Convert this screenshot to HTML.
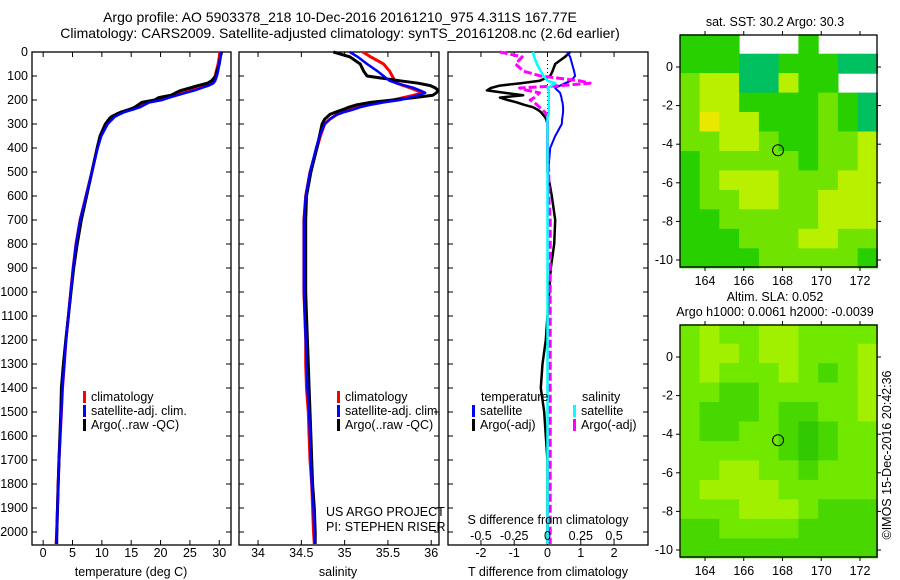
<!DOCTYPE html>
<html><head><meta charset="utf-8"><style>
body{margin:0;background:#fff;}
svg{display:block;font-family:"Liberation Sans",sans-serif;}
</style></head><body>
<svg id="c" width="900" height="580" viewBox="0 0 900 580" xmlns="http://www.w3.org/2000/svg">
<text x="340" y="22" font-size="14" text-anchor="middle">Argo profile: AO 5903378_218 10-Dec-2016 20161210_975 4.311S 167.77E</text>
<text x="340" y="38" font-size="14" text-anchor="middle">Climatology: CARS2009. Satellite-adjusted climatology: synTS_20161208.nc (2.6d earlier)</text>
<g id="g"></g>
</svg>
<script>
const depths=[0,20,50,80,100,120,130,140,150,160,170,180,190,200,210,220,230,240,250,260,270,280,300,350,400,500,600,700,800,900,1000,1100,1200,1300,1400,1500,1600,1700,1800,1900,2000,2050];
const tempClim=[30.1,30.0,29.8,29.5,29.3,28.9,28.5,27.8,26.7,25.3,23.9,22.5,21.1,19.9,17.7,16.8,16.0,14.8,13.4,12.5,11.7,11.4,10.6,9.7,9.2,8.3,7.3,6.3,5.6,5.1,4.7,4.3,3.9,3.6,3.3,3.1,2.9,2.7,2.56,2.45,2.33,2.2];
const tempSat=[30.3,30.2,30.0,29.8,29.6,29.3,29.0,28.2,27.0,25.8,24.3,22.9,21.5,20.3,18.1,17.3,16.5,15.3,13.9,13.0,12.2,11.8,11.0,9.9,9.3,8.3,7.3,6.3,5.6,5.1,4.7,4.3,3.9,3.6,3.3,3.1,2.9,2.7,2.56,2.45,2.33,2.2];
const tempArgo=[30.4,30.2,30.0,29.6,29.4,28.7,28.0,26.4,25.0,23.5,22.6,21.8,19.7,19.0,16.8,16.2,15.6,14.6,13.3,12.4,11.6,11.2,10.6,9.7,9.2,8.3,7.4,6.5,5.8,5.2,4.75,4.3,3.85,3.45,3.1,3.0,2.85,2.7,2.56,2.45,2.33,2.3];
const salClim=[35.21,35.3,35.45,35.52,35.55,35.58,35.6,35.68,35.76,35.83,35.9,35.8,35.68,35.56,35.4,35.26,35.15,35.06,34.98,34.91,34.87,34.83,34.77,34.72,34.68,34.6,34.55,34.53,34.53,34.53,34.53,34.54,34.55,34.55,34.56,34.58,34.59,34.6,34.62,34.63,34.64,34.65];
const salSat=[35.06,35.15,35.26,35.38,35.45,35.52,35.6,35.7,35.8,35.87,35.93,35.85,35.75,35.64,35.45,35.3,35.18,35.1,35.0,34.92,34.87,34.83,34.77,34.71,34.67,34.6,34.55,34.53,34.53,34.53,34.53,34.54,34.55,34.56,34.57,34.59,34.6,34.61,34.62,34.64,34.65,34.66];
const salArgo=[34.87,35.06,35.18,35.22,35.26,35.64,35.85,35.99,36.05,36.08,36.06,36.02,35.8,35.56,35.3,35.14,35.05,34.98,34.9,34.83,34.8,34.77,34.74,34.71,34.68,34.61,34.56,34.55,34.55,34.55,34.55,34.56,34.57,34.58,34.59,34.6,34.61,34.62,34.63,34.65,34.66,34.66];
const dTsat=[0.59,0.68,0.74,0.8,0.83,0.7,0.53,0.38,0.23,0.3,0.38,0.4,0.42,0.43,0.45,0.46,0.47,0.47,0.47,0.46,0.45,0.44,0.43,0.23,0.08,0.02,0.01,0,0,0,0,0,0,0,0,0,0,0,0,0,0,0];
const dTargo=[0.68,0.53,0.23,0.15,0.08,-0.23,-0.8,-1.43,-1.7,-1.82,-1.3,-0.73,-1.43,-1.2,-0.92,-0.7,-0.44,-0.3,-0.2,-0.14,-0.08,-0.04,0,0,0,0,0.13,0.23,0.2,0.1,0.05,0,-0.05,-0.15,-0.2,-0.1,-0.05,0,0,0,0,0];
const dSargo=[-0.36,-0.19,-0.24,-0.18,-0.05,0.24,0.32,0.1,-0.21,-0.15,-0.06,-0.08,-0.1,-0.13,-0.1,-0.08,-0.06,-0.04,-0.02,-0.01,0,0,0,0,0,0.01,0.01,0.02,0.02,0.02,0.02,0.02,0.02,0.02,0.02,0.02,0.02,0.02,0.02,0.02,0.02,0.02];
const dSsat=[-0.11,-0.1,-0.08,-0.05,-0.03,0.0,0.06,0.03,0,0.01,0.01,0.01,0.01,0.01,0.01,0.01,0.01,0.01,0.01,0.01,0,0,0,0,0,0,0,0,0,0,0,0,0,0,0,0,0,0,0,0,0,0];
const depthTicks=[0,100,200,300,400,500,600,700,800,900,1000,1100,1200,1300,1400,1500,1600,1700,1800,1900,2000];
const tempTicks=[0,5,10,15,20,25,30];
const salTicks=[34,34.5,35,35.5,36];
const salTickLabels=["34","34.5","35","35.5","36"];
const dTTicks=[-2,-1,0,1,2];
const dSTicks=[-0.5,-0.25,0,0.25,0.5];
const dSTickLabels=["-0.5","-0.25","0","0.25","0.5"];
const lonTicks=[164,166,168,170,172];
const latTicks=[0,-2,-4,-6,-8,-10];
const argoLon=167.77, argoLat=-4.311;
const sstGrid=[
[1,1,1,-1,-1,-1,1,-1,-1,-1],
[1,1,1,0,0,1,1,1,0,0],
[2,3,3,0,0,3,1,1,-1,-1],
[2,3,3,1,1,1,1,2,1,0],
[2,4,3,3,1,1,1,2,1,0],
[2,2,3,3,2,1,1,2,2,3],
[1,2,2,2,2,2,1,2,2,3],
[1,2,3,3,3,2,2,2,3,3],
[1,2,2,3,3,2,2,3,3,3],
[1,1,2,2,2,2,2,3,3,3],
[1,1,1,2,2,2,3,3,2,2],
[1,1,1,1,2,2,2,2,2,1]];
const slaGrid=[
[2,3,2,2,3,3,2,2,2,2],
[2,3,3,2,3,3,2,2,2,3],
[2,3,2,2,2,3,2,1,2,3],
[2,2,1,1,2,2,2,2,2,3],
[2,1,1,1,2,1,1,2,2,3],
[2,1,1,2,2,1,0,1,2,2],
[2,2,2,2,2,1,0,1,2,2],
[2,2,3,3,2,2,1,2,2,2],
[2,3,3,3,3,2,2,2,2,2],
[2,2,2,3,3,3,2,1,1,1],
[1,1,2,2,2,2,1,1,1,1],
[1,1,1,1,1,1,1,1,1,1]];
const sstColors=["#00c060","#28d000","#70e400","#b8f000","#e8e800"];
const slaColors=["#30c800","#48d800","#70e800","#a0f000"];

const NS="http://www.w3.org/2000/svg";
const G=document.getElementById('g');
function mk(tag,attrs,parent){const e=document.createElementNS(NS,tag);for(const k in attrs)e.setAttribute(k,attrs[k]);(parent||G).appendChild(e);return e;}
function txt(x,y,s,size,anchor,parent){const t=mk('text',{x:x,y:y,'font-size':size||12.5,'text-anchor':anchor||'middle'},parent);t.textContent=s;return t;}
const topY=52,botY=545;
const yD=d=>topY+d*0.24;

function panel(name,x0,x1,xmin,xmax){
  const g=mk('g',{});
  
  
  const sx=v=>x0+(v-xmin)/(xmax-xmin)*(x1-x0);
  return {g,sx,x0,x1};
}
function frame(p){
  const r=mk('rect',{x:p.x0,y:topY,width:p.x1-p.x0,height:botY-topY,fill:'none',stroke:'#000','stroke-width':1.3},p.g);
  
  
  depthTicks.forEach(d=>{mk('line',{x1:p.x0,x2:p.x0+5,y1:yD(d),y2:yD(d),stroke:'#000'},p.g);mk('line',{x1:p.x1,x2:p.x1-5,y1:yD(d),y2:yD(d),stroke:'#000'},p.g);});
}
function xticks(p,ticks,labels,y){
  ticks.forEach((v,i)=>{const x=p.sx(v);mk('line',{x1:x,x2:x,y1:topY,y2:topY+5,stroke:'#000'},p.g);mk('line',{x1:x,x2:x,y1:botY,y2:botY-5,stroke:'#000'},p.g);
    const t=txt(x,y,labels?labels[i]:String(v),12.5,'middle',p.g);
    
    });
}
function line(p,vals,color,w,name,dash,scale){
  const pts=depths.map((d,i)=>{const v=(vals[i]!==undefined?vals[i]:vals[vals.length-1]);return p.sx(v*(scale||1)).toFixed(1)+','+yD(d).toFixed(1);}).join(' ');
  const l=mk('polyline',{points:pts,fill:'none',stroke:color,'stroke-width':w,'stroke-linejoin':'round'},p.g);
  if(dash)l.setAttribute('stroke-dasharray',dash);
  
  
}
function legend(p,x,y,color,label){
  mk('rect',{x:x-2,y:y-10,width:3,height:12,fill:color},p.g);
  const t=txt(x+6,y,label,12.5,'start',p.g);
  
  
}

depthTicks.forEach(d=>{const t=txt(28,yD(d)+4,String(d),12.5,'end');
  
  });

const p1=panel('temperature-panel',32,231,-1.9,32.0);
frame(p1);xticks(p1,tempTicks,null,557);
line(p1,tempClim,'#f00',3,'temp-climatology-line');
line(p1,tempArgo,'#000',3,'temp-argo-line');
line(p1,tempSat,'#00f',2.5,'temp-satellite-line');
legend(p1,85,401,'#f00','climatology');legend(p1,85,415,'#00f','satellite-adj. clim.');legend(p1,85,429,'#000','Argo(..raw -QC)');
{const t=txt(131,576,'temperature (deg C)',12.5,'middle',p1.g);}

const p2=panel('salinity-panel',239,439,33.78,36.09);
frame(p2);xticks(p2,salTicks,salTickLabels,557);
line(p2,salClim,'#f00',3,'sal-climatology-line');
line(p2,salArgo,'#000',3,'sal-argo-line');
line(p2,salSat,'#00f',2.5,'sal-satellite-line');
legend(p2,339,401,'#f00','climatology');legend(p2,339,415,'#00f','satellite-adj. clim.');legend(p2,339,429,'#000','Argo(..raw -QC)');
{const t=txt(338,576,'salinity',12.5,'middle',p2.g);}
{const t=txt(326,516,'US ARGO PROJECT',12.5,'start',p2.g);
 const t2=txt(326,531,'PI: STEPHEN RISER',12.5,'start',p2.g);}

const p3=panel('difference-panel',448,648,-2.99,3.02);
frame(p3);xticks(p3,dTTicks,null,557);
mk('line',{x1:p3.sx(0),x2:p3.sx(0),y1:topY,y2:botY,stroke:'#000','stroke-dasharray':'1,3'},p3.g);
line(p3,dTargo,'#000',2.5,'tdiff-argo-line');
line(p3,dTsat,'#00f',2,'tdiff-satellite-line');
line(p3,dSargo,'#f0f',3,'sdiff-argo-line','8,3',4);
line(p3,dSsat,'#0ff',2.5,'sdiff-satellite-line',null,4);
dSTicks.forEach((v,i)=>{const t=txt(p3.sx(v*4),540,dSTickLabels[i],12.5,'middle',p3.g);});
{const t=txt(548,524,'S difference from climatology',12.5,'middle',p3.g);
 const t2=txt(548,576,'T difference from climatology',12.5,'middle',p3.g);}
{const t=txt(481,401,'temperature',12.5,'start',p3.g);
 const t2=txt(582,401,'salinity',12.5,'start',p3.g);}
legend(p3,474,415,'#00f','satellite');legend(p3,474,429,'#000','Argo(-adj)');
legend(p3,575,415,'#0ff','satellite');legend(p3,575,429,'#f0f','Argo(-adj)');

function map(name,y0,grid,colors,titles){
  const g=mk('g',{});
  
  
  const mx0=680,mx1=877,my1=y0+232;
  const sx=lon=>705+(lon-164)*19.375;
  const sy=lat=>(y0+32)-lat*19.3;
  const lon0=162.7,lat0=1.7,dl=(172.9-162.7)/10,dla=(1.7+10.4)/12;
  grid.forEach((row,r)=>row.forEach((v,c)=>{
    if(v<0)return;
    const x=sx(lon0+c*dl),y=sy(lat0-r*dla);
    const cell=mk('rect',{x:x.toFixed(1),y:y.toFixed(1),width:(sx(lon0+(c+1)*dl)-x+0.5).toFixed(1),height:(sy(lat0-(r+1)*dla)-y+0.5).toFixed(1),fill:colors[v]},g);
    
    
  }));
  mk('rect',{x:mx0,y:y0,width:mx1-mx0,height:my1-y0,fill:'none',stroke:'#000','stroke-width':1.3},g);
  lonTicks.forEach(l=>{const x=sx(l);mk('line',{x1:x,x2:x,y1:y0,y2:y0-4,stroke:'#000'},g);mk('line',{x1:x,x2:x,y1:my1,y2:my1+4,stroke:'#000'},g);
    const t=txt(x,my1+18,String(l),12.5,'middle',g);});
  latTicks.forEach(l=>{const y=sy(l);mk('line',{x1:mx0,x2:mx0-4,y1:y,y2:y,stroke:'#000'},g);mk('line',{x1:mx1,x2:mx1+4,y1:y,y2:y,stroke:'#000'},g);
    const t=txt(673,y+4,String(l),12.5,'end',g);});
  const c=mk('circle',{cx:sx(argoLon),cy:sy(argoLat),r:5.5,fill:'none',stroke:'#000','stroke-width':1},g);
  
  
  titles.forEach(([s,y])=>{const t=txt(775,y,s,12.5,'middle',g);});
}
map('sst-map',35,sstGrid,sstColors,[['sat. SST: 30.2  Argo: 30.3',26]]);
map('sla-map',325,slaGrid,slaColors,[['Altim. SLA: 0.052',301],['Argo h1000: 0.0061  h2000: -0.0039',316]]);
{const t=txt(0,0,'©IMOS 15-Dec-2016 20:42:36',12.5,'middle');t.setAttribute('transform','translate(891,455) rotate(-90)');
 }
</script>
</body></html>
